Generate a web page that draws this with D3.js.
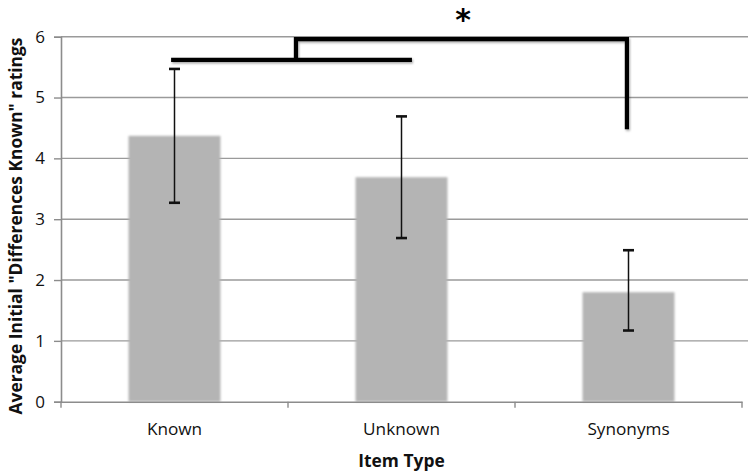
<!DOCTYPE html>
<html><head><meta charset="utf-8">
<script src="https://cdn.jsdelivr.net/npm/d3@7"></script>
<style>body{margin:0;background:#fff}svg{display:block}</style>
</head><body>
<svg id="c" width="750" height="476"></svg>
<script>
const categories = ["Known", "Unknown", "Synonyms"];
const means = [4.37, 3.69, 1.80];
const errUpper = [5.47, 4.69, 2.49];
const errLower = [3.27, 2.69, 1.17];
const yTicks = [0, 1, 2, 3, 4, 5, 6];
// significance bracket, in (category position, value) units
const bracketLow = [[-0.015, 5.62], [1.046, 5.62]];
const bracketHigh = [[0.535, 5.62], [0.535, 5.96], [1.993, 5.96], [1.993, 4.48]];
const starLabel = "*";
const yTitle = "Average Initial \"Differences Known\" ratings";
const xTitle = "Item Type";

(function () {
const svg = d3.select("#c");
const mLeft = 61, mRight = 742, mTop = 36.7, mBottom = 401.7;
const x = d3.scaleBand().domain(categories).range([mLeft, mRight]);
const xc = d3.scaleLinear().domain([-0.5, categories.length - 0.5]).range([mLeft, mRight]);
const y = d3.scaleLinear().domain([0, 6]).range([mBottom, mTop]);

const defs = svg.append("defs");
const f = defs.append("filter").attr("id", "soft").attr("x", "-10%").attr("y", "-10%").attr("width", "120%").attr("height", "120%");
f.append("feGaussianBlur").attr("stdDeviation", 0.8);
const sh = defs.append("filter").attr("id", "shadow").attr("x", "-5%").attr("y", "-50%").attr("width", "110%").attr("height", "200%");
sh.append("feDropShadow").attr("dx", 1).attr("dy", 1.5).attr("stdDeviation", 1.2).attr("flood-color", "#000").attr("flood-opacity", 0.35);

// gridlines
svg.append("g").selectAll("line").data(yTicks.filter(d => d > 0)).join("line")
  .attr("x1", mLeft).attr("x2", 748).attr("y1", d => y(d)).attr("y2", d => y(d))
  .attr("stroke", "#9a9a9a").attr("stroke-width", 1.4);

// bars
const bw = x.bandwidth() * 0.405;
svg.append("g").selectAll("rect").data(categories).join("rect")
  .attr("x", (d) => x(d) + x.bandwidth() / 2 - bw / 2)
  .attr("width", bw)
  .attr("y", (d, i) => y(means[i]))
  .attr("height", (d, i) => y(0) - y(means[i]))
  .attr("fill", "#b4b4b4").attr("filter", "url(#soft)");

// y axis
const ya = svg.append("g").attr("transform", `translate(${mLeft},0)`)
  .call(d3.axisLeft(y).tickValues(yTicks).tickSize(7).tickPadding(9).tickFormat(d3.format("d")));
ya.select(".domain").attr("stroke", "#8c8c8c").attr("stroke-width", 1.6);
ya.selectAll(".tick line").attr("stroke", "#8c8c8c").attr("stroke-width", 1.4);
ya.selectAll("text").attr("font-family", "Open Sans").attr("font-size", 17).attr("fill", "#111");

// x axis
const xa = svg.append("g").attr("transform", `translate(0,${mBottom})`)
  .call(d3.axisBottom(x).tickSize(0).tickPadding(21));
xa.select(".domain").attr("stroke", "#8c8c8c").attr("stroke-width", 1.6);
xa.selectAll("text").attr("font-family", "Open Sans").attr("font-size", 17.2).attr("fill", "#111");
const xTickPos = d3.range(categories.length + 1).map(i => xc(i - 0.5));
svg.append("g").selectAll("line").data(xTickPos).join("line")
  .attr("x1", d => d).attr("x2", d => d).attr("y1", mBottom).attr("y2", mBottom + 6)
  .attr("stroke", "#8c8c8c").attr("stroke-width", 1.4);

// error bars
const eg = svg.append("g").attr("stroke", "#111");
categories.forEach((c, i) => {
  const cx = x(c) + x.bandwidth() / 2;
  eg.append("line").attr("x1", cx).attr("x2", cx).attr("y1", y(errUpper[i])).attr("y2", y(errLower[i])).attr("stroke-width", 1.5);
  [errUpper[i], errLower[i]].forEach(v => {
    eg.append("line").attr("x1", cx - 5.5).attr("x2", cx + 5.5).attr("y1", y(v)).attr("y2", y(v)).attr("stroke-width", 2.6);
  });
});

// significance brackets
const line = d3.line().x(d => xc(d[0])).y(d => y(d[1]));
const bg = svg.append("g").attr("filter", "url(#shadow)");
bg.append("path").attr("d", line(bracketLow)).attr("fill", "none").attr("stroke", "#000").attr("stroke-width", 4.2);
bg.append("path").attr("d", line(bracketHigh)).attr("fill", "none").attr("stroke", "#000").attr("stroke-width", 4.2).attr("stroke-linejoin", "miter");
svg.append("text").attr("x", 463).attr("y", 30).attr("text-anchor", "middle")
  .attr("font-family", "DejaVu Sans").attr("font-weight", "bold").attr("font-size", 30).text(starLabel);

// axis titles
svg.append("text").attr("transform", `translate(22,226) rotate(-90)`)
  .attr("text-anchor", "middle").attr("font-family", "Open Sans").attr("font-weight", "bold")
  .attr("font-size", 17.4).attr("fill", "#111").text(yTitle);
svg.append("text").attr("x", (mLeft + mRight) / 2).attr("y", 467).attr("text-anchor", "middle")
  .attr("font-family", "Open Sans").attr("font-weight", "bold").attr("font-size", 17.4).attr("fill", "#111").text(xTitle);
})();
</script>
</body></html>
